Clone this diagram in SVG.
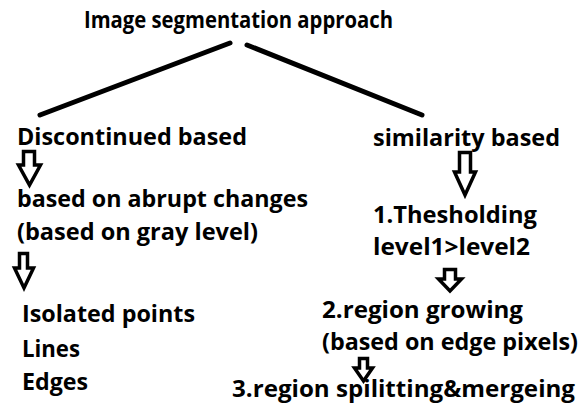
<svg xmlns="http://www.w3.org/2000/svg" width="587" height="412" viewBox="0 0 587 412">
<style>
text{font-family:"Open Sans","Noto Sans","Liberation Sans",sans-serif;font-weight:700;font-size:24px;fill:#000}
.ln{stroke:#000;stroke-width:5;stroke-linecap:round;fill:none}
.ar{stroke:#000;stroke-width:3.5;fill:#fff;stroke-linejoin:miter}
</style>
<rect width="587" height="412" fill="#fff"/>
<g id="connectors">
<line class="ln" x1="230" y1="43" x2="40" y2="115"/>
<line class="ln" x1="247" y1="45" x2="422" y2="115"/>
<path class="ar" d="M23.5,151.5H34.5V165H40.5L29.5,185L18.5,165H23.5Z"/>
<path class="ar" d="M19.5,253.5H27.5V268H33.5L24,288L14.5,268H19.5Z"/>
<path class="ar" d="M459.5,152.5H470.5V172H475.5L465,195L454.5,172H459.5Z"/>
<path class="ar" d="M444.5,269.5H455.5V279H461.5L450,291L438.5,279H444.5Z"/>
<path class="ar" d="M359.5,358.5H367.5V368H372.5L363.5,381L354.5,368H359.5Z"/>
</g>
<g id="root"><text x="84" y="28" textLength="309" lengthAdjust="spacingAndGlyphs">Image segmentation approach</text></g>
<g id="discontinued"><text x="17" y="145" textLength="230" lengthAdjust="spacingAndGlyphs">Discontinued based</text></g>
<g id="abrupt"><text x="17" y="207" textLength="291" lengthAdjust="spacingAndGlyphs">based on abrupt changes</text>
<text x="17" y="240" textLength="241" lengthAdjust="spacingAndGlyphs">(based on gray level)</text></g>
<g id="items"><text x="22" y="322" textLength="173" lengthAdjust="spacingAndGlyphs">Isolated points</text>
<text x="22" y="357" textLength="58" lengthAdjust="spacingAndGlyphs">Lines</text>
<text x="22" y="390" textLength="66" lengthAdjust="spacingAndGlyphs">Edges</text></g>
<g id="similarity"><text x="373" y="146" textLength="187" lengthAdjust="spacingAndGlyphs">similarity based</text></g>
<g id="thresholding"><text x="373" y="223" textLength="164" lengthAdjust="spacingAndGlyphs">1.Thesholding</text>
<text x="373" y="255" textLength="157" lengthAdjust="spacingAndGlyphs">level1&gt;level2</text></g>
<g id="growing"><text x="322" y="318" textLength="201" lengthAdjust="spacingAndGlyphs">2.region growing</text>
<text x="322" y="350" textLength="256" lengthAdjust="spacingAndGlyphs">(based on edge pixels)</text></g>
<g id="splitting"><text x="232" y="397" textLength="343" lengthAdjust="spacingAndGlyphs">3.region spilitting&amp;mergeing</text></g>
</svg>
